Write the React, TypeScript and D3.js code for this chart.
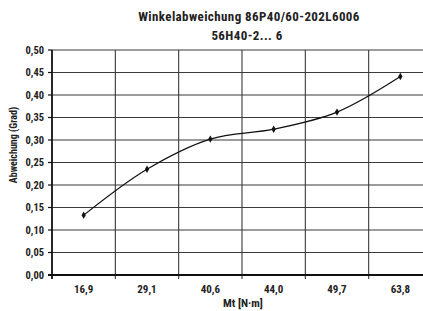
import React, { useEffect, useRef } from 'react';
import * as d3 from 'd3';

const categories = ['16,9', '29,1', '40,6', '44,0', '49,7', '63,8'];
const values = [0.133, 0.235, 0.302, 0.324, 0.362, 0.441];
const yTicks = [0, 0.05, 0.1, 0.15, 0.2, 0.25, 0.3, 0.35, 0.4, 0.45, 0.5];

const FONT = '"Liberation Sans Narrow", "Arial Narrow", "Roboto Condensed", "Liberation Sans", sans-serif';

const App = () => {
  const ref = useRef<SVGSVGElement>(null);
  const width = 423;
  const height = 311;
  const margin = { left: 52, top: 50, bottom: 36 };
  const plotW = 380;
  const plotH = height - margin.top - margin.bottom;

  useEffect(() => {
    const svg = d3.select(ref.current);
    svg.selectAll('*').remove();

    const x = d3.scaleBand().domain(categories).range([margin.left, margin.left + plotW]);
    const y = d3.scaleLinear().domain([0, 0.5]).range([margin.top + plotH, margin.top]);
    const fmt = (v: number) => v.toFixed(2).replace('.', ',');

    const g = svg.append('g');

    // horizontal grid
    g.selectAll('line.hgrid')
      .data(yTicks)
      .enter()
      .append('line')
      .attr('x1', margin.left)
      .attr('x2', margin.left + plotW)
      .attr('y1', (d) => y(d))
      .attr('y2', (d) => y(d))
      .attr('stroke', '#3a3a3a')
      .attr('stroke-width', 1.1);

    // vertical grid at category boundaries
    const bounds = categories.map((c) => x(c) as number).concat([margin.left + plotW]);
    g.selectAll('line.vgrid')
      .data(bounds.slice(1))
      .enter()
      .append('line')
      .attr('x1', (d) => d)
      .attr('x2', (d) => d)
      .attr('y1', margin.top)
      .attr('y2', margin.top + plotH + 4)
      .attr('stroke', '#3a3a3a')
      .attr('stroke-width', 1.1);

    // axes
    g.append('line')
      .attr('x1', margin.left)
      .attr('x2', margin.left)
      .attr('y1', margin.top)
      .attr('y2', margin.top + plotH + 4)
      .attr('stroke', '#111')
      .attr('stroke-width', 1.8);
    g.append('line')
      .attr('x1', margin.left - 4)
      .attr('x2', margin.left + plotW)
      .attr('y1', margin.top + plotH)
      .attr('y2', margin.top + plotH)
      .attr('stroke', '#111')
      .attr('stroke-width', 1.8);

    // y tick marks + labels
    g.selectAll('line.ytick')
      .data(yTicks)
      .enter()
      .append('line')
      .attr('x1', margin.left - 4)
      .attr('x2', margin.left)
      .attr('y1', (d) => y(d))
      .attr('y2', (d) => y(d))
      .attr('stroke', '#111')
      .attr('stroke-width', 1.2);
    g.selectAll('text.ytick')
      .data(yTicks)
      .enter()
      .append('text')
      .attr('x', margin.left - 8)
      .attr('y', (d) => y(d) + 3.8)
      .attr('text-anchor', 'end')
      .style('font-family', FONT)
      .style('font-weight', 'bold')
      .style('font-size', '10.5px')
      .style('fill', '#222')
      .text(fmt);

    // x labels
    g.selectAll('text.xtick')
      .data(categories)
      .enter()
      .append('text')
      .attr('x', (d) => (x(d) as number) + x.bandwidth() / 2)
      .attr('y', margin.top + plotH + 18)
      .attr('text-anchor', 'middle')
      .style('font-family', FONT)
      .style('font-weight', 'bold')
      .style('font-size', '11px')
      .style('fill', '#222')
      .text((d) => d);

    // line
    const pts: [number, number][] = values.map((v, i) => [
      (x(categories[i]) as number) + x.bandwidth() / 2,
      y(v),
    ]);
    const line = d3.line().curve(d3.curveCatmullRom.alpha(0.5));
    g.append('path')
      .attr('d', line(pts))
      .attr('fill', 'none')
      .attr('stroke', '#111')
      .attr('stroke-width', 1.2);

    g.selectAll('path.marker')
      .data(pts)
      .enter()
      .append('path')
      .attr('d', d3.symbol().type(d3.symbolDiamond).size(16))
      .attr('transform', (d) => `translate(${d[0]},${d[1]})`)
      .attr('fill', '#111');

    // titles
    const title = svg
      .append('text')
      .attr('text-anchor', 'middle')
      .style('font-family', FONT)
      .style('font-weight', 'bold')
      .style('font-size', '13px')
      .style('letter-spacing', '0.4px')
      .style('fill', '#222');
    title.append('tspan').attr('x', 249).attr('y', 20.5).text('Winkelabweichung 86P40/60-202L6006');
    title.append('tspan').attr('x', 247).attr('y', 39.5).text('56H40-2... 6');

    svg
      .append('text')
      .attr('x', 243)
      .attr('y', 306.5)
      .attr('text-anchor', 'middle')
      .style('font-family', FONT)
      .style('font-weight', 'bold')
      .style('font-size', '11.5px')
      .style('fill', '#222')
      .text('Mt [N·m]');

    svg
      .append('text')
      .attr('transform', 'translate(17,145) rotate(-90)')
      .attr('text-anchor', 'middle')
      .style('font-family', FONT)
      .style('font-weight', 'bold')
      .style('font-size', '10px')
      .style('fill', '#222')
      .text('Abweichung (Grad)');
  }, []);

  return (
    <svg
      ref={ref}
      width={width}
      height={height}
      style={{ position: 'absolute', left: 0, top: 0, background: '#fff' }}
    />
  );
};

export default App;
